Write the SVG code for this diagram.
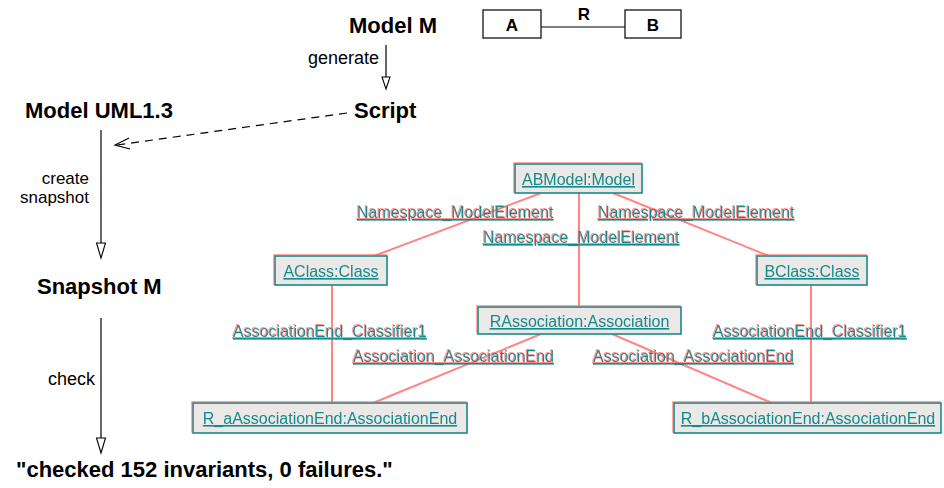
<svg xmlns="http://www.w3.org/2000/svg" width="944" height="488" viewBox="0 0 944 488">
  <style>
    .title { font-family: "Liberation Sans", Arial, sans-serif; font-weight: bold; font-size: 22px; fill: #000; }
    .lbl { font-family: "Liberation Sans", Arial, sans-serif; font-size: 18px; fill: #000; }
    .lbl2 { font-family: "Liberation Sans", Arial, sans-serif; font-size: 17px; fill: #000; }
    .cls { font-family: "Liberation Sans", Arial, sans-serif; font-weight: bold; font-size: 17px; fill: #000; }
    .flow { stroke: #000; stroke-width: 1.2; fill: none; }
    .head { stroke: #000; stroke-width: 1.1; fill: #fff; }
    .box { fill: #fff; stroke: #000; stroke-width: 1.2; }
    .obj { fill: #ebe8e8; stroke: #168a8a; stroke-width: 1.6; }
    .otx { font-family: "Liberation Sans", Arial, sans-serif; font-size: 16px; fill: #168a8a; text-decoration: underline; }
    .link { stroke: #ff7070; stroke-width: 2; fill: none; stroke-opacity: 0.85; }
  </style>
  <defs>
    <!-- slight colour fringe and softness of the captured object view -->
    <filter id="fringe" x="-10%" y="-30%" width="120%" height="160%">
      <feGaussianBlur in="SourceGraphic" stdDeviation="0.35" result="b"/>
      <feOffset in="SourceAlpha" dx="-1.2" dy="-0.8" result="o"/>
      <feFlood flood-color="#ff6f6f" flood-opacity="0.75"/>
      <feComposite in2="o" operator="in" result="p"/>
      <feGaussianBlur in="p" stdDeviation="0.4" result="pb"/>
      <feMerge><feMergeNode in="pb"/><feMergeNode in="b"/></feMerge>
    </filter>
  </defs>

  <!-- process column -->
  <g id="model-m"><text class="title" x="437" y="33" text-anchor="end">Model M</text></g>
  <g id="script"><text class="title" x="354" y="118">Script</text></g>
  <g id="model-uml"><text class="title" x="25" y="118">Model UML1.3</text></g>
  <g id="snapshot-m"><text class="title" x="37" y="294">Snapshot M</text></g>
  <g id="result"><text class="title" x="16" y="477">"checked 152 invariants, 0 failures."</text></g>

  <!-- class diagram A - R - B -->
  <g id="class-a">
    <rect class="box" x="483" y="10" width="58" height="28"/>
    <text class="cls" x="512" y="31" text-anchor="middle">A</text>
  </g>
  <g id="class-b">
    <rect class="box" x="625" y="10" width="56" height="28"/>
    <text class="cls" x="653" y="31" text-anchor="middle">B</text>
  </g>

  <g id="connectors">
    <line class="flow" x1="541" y1="27" x2="625" y2="27"/>
    <text class="cls" x="584" y="20" text-anchor="middle">R</text>

    <line class="flow" x1="386" y1="45" x2="386" y2="78"/>
    <polygon class="head" points="382,77 390,77 386,89"/>
    <text class="lbl" x="379" y="64" text-anchor="end">generate</text>

    <line class="flow" x1="347" y1="113" x2="117" y2="145" stroke-dasharray="8,6"/>
    <polyline class="flow" points="129,138 115,145 130,149"/>

    <line class="flow" x1="101" y1="130" x2="101" y2="243"/>
    <polygon class="head" points="96.5,243 105.5,243 101,258"/>
    <text class="lbl2" x="89" y="184" text-anchor="end">create</text>
    <text class="lbl2" x="89" y="203" text-anchor="end">snapshot</text>

    <line class="flow" x1="101" y1="318" x2="101" y2="438"/>
    <polygon class="head" points="96.5,438 105.5,438 101,453"/>
    <text class="lbl" x="95" y="385" text-anchor="end">check</text>

    <!-- object diagram links -->
    <line class="link" x1="541" y1="193" x2="374" y2="256"/>
    <line class="link" x1="613" y1="193" x2="769" y2="256"/>
    <line class="link" x1="579" y1="193" x2="579" y2="307"/>
    <line class="link" x1="332" y1="285" x2="332" y2="403"/>
    <line class="link" x1="541" y1="334" x2="373" y2="403"/>
    <line class="link" x1="612" y1="334" x2="772" y2="403"/>
    <line class="link" x1="811" y1="285" x2="811" y2="403"/>
    <g filter="url(#fringe)">
      <text class="otx" x="357" y="218">Namespace_ModelElement</text>
      <text class="otx" x="598" y="218">Namespace_ModelElement</text>
      <text class="otx" x="483" y="243">Namespace_ModelElement</text>
      <text class="otx" x="233" y="337">AssociationEnd_Classifier1</text>
      <text class="otx" x="713" y="337">AssociationEnd_Classifier1</text>
      <text class="otx" x="353" y="362">Association_AssociationEnd</text>
      <text class="otx" x="593" y="362">Association_AssociationEnd</text>
    </g>
  </g>

  <!-- object diagram nodes -->
  <g id="abmodel" filter="url(#fringe)">
    <rect class="obj" x="515" y="164" width="127" height="29"/>
    <text class="otx" x="578.5" y="185" text-anchor="middle">ABModel:Model</text>
  </g>
  <g id="aclass" filter="url(#fringe)">
    <rect class="obj" x="275" y="256" width="112" height="29"/>
    <text class="otx" x="331" y="277" text-anchor="middle">AClass:Class</text>
  </g>
  <g id="bclass" filter="url(#fringe)">
    <rect class="obj" x="757" y="256" width="110" height="29"/>
    <text class="otx" x="812" y="277" text-anchor="middle">BClass:Class</text>
  </g>
  <g id="rassociation" filter="url(#fringe)">
    <rect class="obj" x="478" y="307" width="203" height="27"/>
    <text class="otx" x="579.5" y="327" text-anchor="middle">RAssociation:Association</text>
  </g>
  <g id="r-a-end" filter="url(#fringe)">
    <rect class="obj" x="193" y="403" width="274" height="30"/>
    <text class="otx" x="330" y="424" text-anchor="middle">R_aAssociationEnd:AssociationEnd</text>
  </g>
  <g id="r-b-end" filter="url(#fringe)">
    <rect class="obj" x="674" y="403" width="267" height="30"/>
    <text class="otx" x="808" y="424" text-anchor="middle">R_bAssociationEnd:AssociationEnd</text>
  </g>
</svg>
